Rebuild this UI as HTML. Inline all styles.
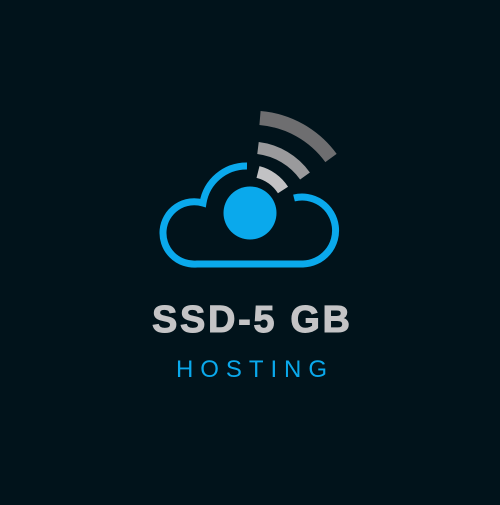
<!DOCTYPE html>
<html><head><style>html,body{margin:0;padding:0;background:#01131b;}</style></head>
<body>
<svg width="500" height="500" viewBox="0 0 500 500" xmlns="http://www.w3.org/2000/svg">
<rect width="500" height="500" fill="#01131b"/>
<path d="M247,166 A44,44 0 0 0 203,203 A31.2,31.2 0 1 0 197,264 L303,264 A33.5,33.5 0 1 0 294,198" fill="none" stroke="#0aa9ec" stroke-width="7" stroke-linecap="butt"/>
<circle cx="250" cy="213" r="26.5" fill="#0aa9ec"/>
<g fill="none" stroke-linecap="butt">
<path d="M258,172 A42,42 0 0 1 283,190" stroke="#c2c2c4" stroke-width="12"/>
<path d="M258,148 A68,68 0 0 1 305,176" stroke="#9a9a9c" stroke-width="12"/>
<path d="M260,118 A98,98 0 0 1 331,158" stroke="#6e6e70" stroke-width="14"/>
</g>
<text x="152" y="332" textLength="198" lengthAdjust="spacing" font-family="Liberation Sans, sans-serif" font-weight="bold" font-size="38" fill="#c4c4c6" stroke="#c4c4c6" stroke-width="1">SSD-5 GB</text>
<text x="176" y="377" textLength="151" lengthAdjust="spacing" font-family="Liberation Sans, sans-serif" font-size="24" fill="#0aa9ec">HOSTING</text>
</svg>
</body></html>
